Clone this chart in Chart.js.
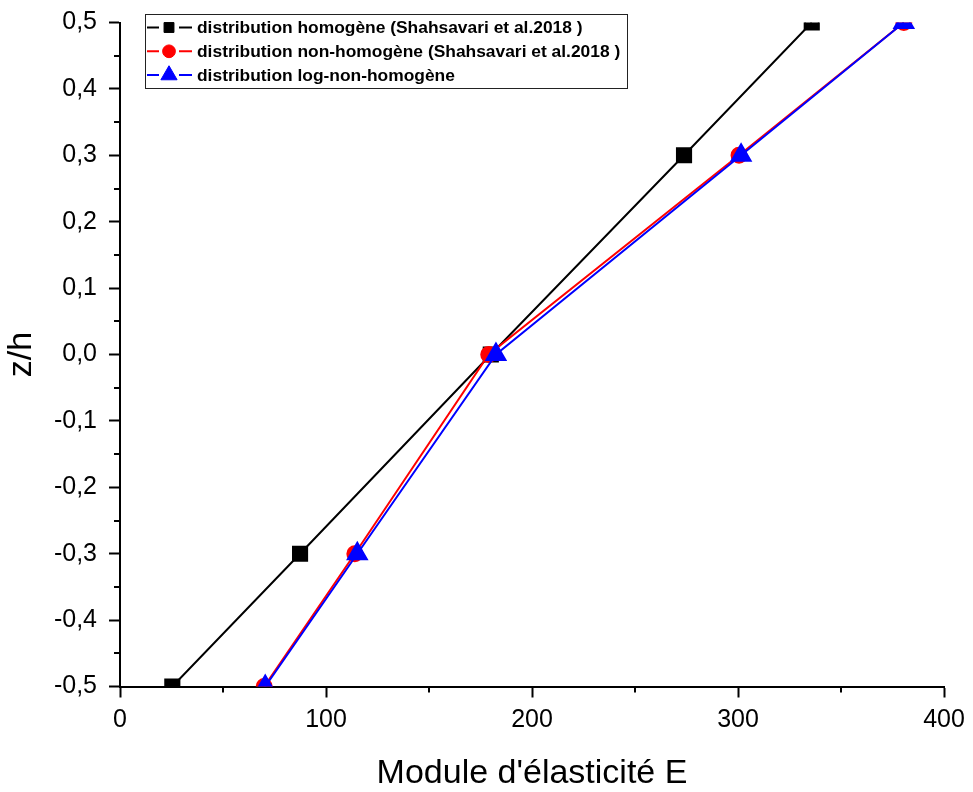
<!DOCTYPE html>
<html>
<head>
<meta charset="utf-8">
<script src="https://cdn.jsdelivr.net/npm/chart.js@4.4.1/dist/chart.umd.min.js"></script>
<style>
    html, body { margin: 0; padding: 0; background: #fff; }
    #wrap { width: 973px; height: 792px; }
</style>
</head>
<body>
<div id="wrap"><canvas id="chart" width="973" height="792"></canvas></div>
<script>
// z/h positions (same for every curve)
const zValues = [-0.5, -0.3, 0.0, 0.3, 0.5];

// Module d'élasticité E
const eHomogene = [25.4, 87.4, 180.0, 273.8, 335.8];
const eNonHomogene = [70.0, 114.0, 179.0, 300.5, 380.5];
const eLogNonHomogene = [70.5, 115.2, 182.5, 301.5, 380.5];

const seriesLabels = [
    'distribution homogène (Shahsavari et al.2018 )',
    'distribution non-homogène (Shahsavari et al.2018 )',
    'distribution log-non-homogène'
];

const xTitle = "Module d'élasticité E";
const yTitle = 'z/h';

const FONT = '"Liberation Sans", Arial, sans-serif';

function toPoints(xs) {
    return xs.map((x, i) => ({ x: x, y: zValues[i] }));
}

function fmtComma(v) {
    if (Math.abs(v) < 1e-9) v = 0;
    return v.toFixed(1).replace('.', ',');
}

// minor ticks (the library only draws major ones here)
const minorTicks = {
    id: 'minorTicks',
    afterDraw(chart) {
        const ctx = chart.ctx;
        const xs = chart.scales.x, ys = chart.scales.y;
        ctx.save();
        ctx.strokeStyle = '#000';
        ctx.lineWidth = 2;
        ctx.beginPath();
        for (let v = 50; v < 400; v += 100) {
            const px = Math.round(xs.getPixelForValue(v));
            ctx.moveTo(px, xs.top);
            ctx.lineTo(px, xs.top + 6);
        }
        for (let i = -9; i <= 9; i += 2) {
            const py = Math.round(ys.getPixelForValue(i * 0.05));
            ctx.moveTo(ys.right, py);
            ctx.lineTo(ys.right - 6, py);
        }
        ctx.stroke();
        ctx.restore();
    }
};

// boxed legend inside the plot, top left
const boxLegend = {
    id: 'boxLegend',
    afterDraw(chart) {
        const ctx = chart.ctx;
        const left = 145, top = 14, w = 482, h = 74;
        const sizes = [0.7, 0.85, 0.85];
        ctx.save();
        ctx.fillStyle = '#fff';
        ctx.fillRect(left, top, w, h);
        ctx.strokeStyle = '#222';
        ctx.lineWidth = 1;
        ctx.strokeRect(left + 0.5, top + 0.5, w, h);
        chart.data.datasets.forEach((ds, i) => {
            const cy = 27.5 + i * 23.8;
            ctx.strokeStyle = ds.borderColor;
            ctx.lineWidth = 2;
            ctx.beginPath();
            ctx.moveTo(147, cy);
            ctx.lineTo(159, cy);
            ctx.moveTo(179, cy);
            ctx.lineTo(192, cy);
            ctx.stroke();
            ctx.fillStyle = ds.pointBackgroundColor;
            ctx.strokeStyle = ds.pointBorderColor;
            ctx.lineWidth = 1;
            Chart.helpers.drawPoint(ctx, {
                pointStyle: ds.pointStyle,
                radius: ds.pointRadius * sizes[i],
                rotation: 0,
                borderWidth: 1
            }, 169, cy);
            ctx.fillStyle = '#000';
            ctx.font = 'bold 17.4px ' + FONT;
            ctx.textBaseline = 'middle';
            ctx.textAlign = 'left';
            ctx.fillText(ds.label, 197, cy + 1);
        });
        ctx.restore();
    }
};

const ctx = document.getElementById('chart').getContext('2d');
new Chart(ctx, {
    type: 'line',
    data: {
        datasets: [
            {
                label: seriesLabels[0],
                data: toPoints(eHomogene),
                borderColor: '#000000',
                pointBackgroundColor: '#000000',
                pointBorderColor: '#000000',
                pointStyle: 'rect',
                pointRadius: 10,
                borderWidth: 2,
                order: 3
            },
            {
                label: seriesLabels[1],
                data: toPoints(eNonHomogene),
                borderColor: '#ff0000',
                pointBackgroundColor: '#ff0000',
                pointBorderColor: '#ff0000',
                pointStyle: 'circle',
                pointRadius: 7.5,
                borderWidth: 2,
                order: 2
            },
            {
                label: seriesLabels[2],
                data: toPoints(eLogNonHomogene),
                borderColor: '#0000ff',
                pointBackgroundColor: '#0000ff',
                pointBorderColor: '#0000ff',
                pointStyle: 'triangle',
                pointRadius: 11,
                borderWidth: 2,
                order: 1
            }
        ]
    },
    options: {
        responsive: false,
        animation: false,
        devicePixelRatio: 1,
        layout: { padding: { top: 0, right: 29, bottom: 0, left: 0 } },
        elements: {
            line: { tension: 0, fill: false },
            point: { borderWidth: 1, hoverRadius: 10 }
        },
        datasets: { line: { clip: 0 } },
        plugins: {
            legend: { display: false },
            tooltip: { enabled: false }
        },
        scales: {
            x: {
                type: 'linear',
                min: 0,
                max: 400,
                afterFit: (scale) => {
                    scale.height = 105.5;
                    scale.paddingLeft = 0;
                    scale.paddingRight = 0;
                },
                ticks: {
                    stepSize: 100,
                    color: '#000',
                    padding: 8,
                    maxRotation: 0,
                    font: { family: FONT, size: 25 },
                    callback: (v) => String(v)
                },
                grid: {
                    display: true,
                    drawOnChartArea: false,
                    drawTicks: true,
                    tickLength: 11,
                    tickWidth: 2,
                    tickColor: '#000'
                },
                border: { display: true, color: '#000', width: 2 },
                title: {
                    display: true,
                    text: xTitle,
                    color: '#000',
                    font: { family: FONT, size: 34 },
                    padding: { top: 0, bottom: -2 }
                }
            },
            y: {
                type: 'linear',
                min: -0.5,
                max: 0.5,
                afterFit: (scale) => {
                    scale.width = 120;
                    scale.paddingTop = 22.5;
                    scale.paddingBottom = 0;
                },
                ticks: {
                    stepSize: 0.1,
                    color: '#000',
                    padding: 12,
                    font: { family: FONT, size: 25 },
                    callback: (v) => fmtComma(v)
                },
                grid: {
                    display: true,
                    drawOnChartArea: false,
                    drawTicks: true,
                    tickLength: 11,
                    tickWidth: 2,
                    tickColor: '#000'
                },
                border: { display: true, color: '#000', width: 2 },
                title: {
                    display: true,
                    text: yTitle,
                    color: '#000',
                    font: { family: FONT, size: 34 },
                    padding: { top: 1, bottom: 0 }
                }
            }
        }
    },
    plugins: [minorTicks, boxLegend]
});
</script>
</body>
</html>
